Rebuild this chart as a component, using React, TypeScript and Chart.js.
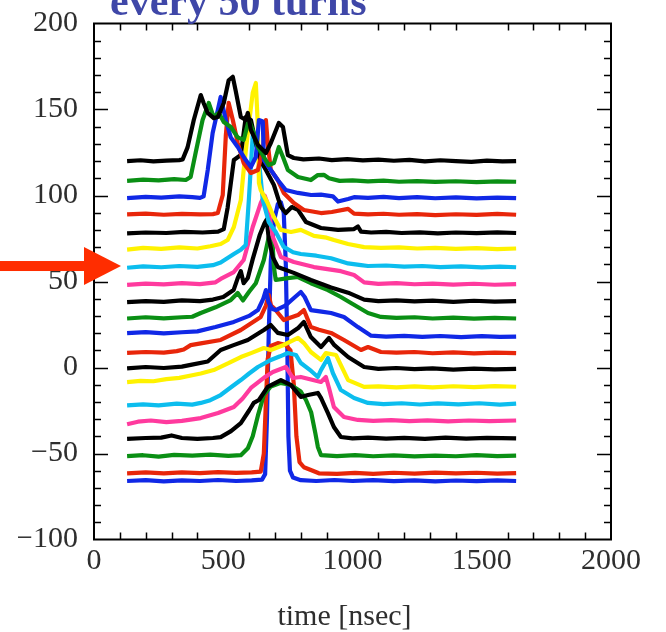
import React, { useEffect, useRef } from "react";
import { Chart, registerables } from "chart.js";
Chart.register(...registerables);

// ---- axes ----
const X_MIN = 0;
const X_MAX = 2000;
const Y_MIN = -100;
const Y_MAX = 200;
const xTickLabels = [0, 500, 1000, 1500, 2000];
const yTickLabels = [-100, -50, 0, 50, 100, 150, 200];
const xMinorTicks = [100, 200, 300, 400, 600, 700, 800, 900, 1100, 1200, 1300, 1400, 1600, 1700, 1800, 1900];
const titleText = "every 50 turns";
const xAxisTitle = "time [nsec]";

// ---- traces (time [nsec], offset signal), listed top to bottom ----
const trace01 = [[128,120],[180,120.5],[230,119.8],[280,120.3],[330,120.6],[343,121],[362,128],[386,143.9],[413,158.4],[424,153.8],[440,148],[463,145],[479,145.6],[502,153.8],[521,167],[537,169],[548,161],[568,145.6],[587,143.9],[595,148],[607,138],[634,129.4],[665,124.7],[684,130.5],[715,142.2],[731,139.8],[750,123.5],[773,121.8],[810,121],[870,121.5],[920,120.6],[980,121.2],[1040,120.4],[1100,120.9],[1160,120.2],[1220,120.7],[1280,119.8],[1340,120.5],[1400,120],[1460,119.6],[1520,120.3],[1580,119.8],[1633,120]];
const trace02 = [[128,108.5],[190,109.2],[250,108.8],[310,109.5],[355,109],[374,110.8],[393,124.7],[420,143.9],[444,153.8],[463,145.6],[483,148],[502,142.7],[529,139.8],[556,133.8],[579,132.3],[599,143.9],[614,138],[634,128.2],[657,122.4],[676,117.7],[696,118.9],[715,128.2],[731,122.4],[750,114.8],[789,110.8],[839,109],[866,111.9],[889,112],[909,110],[950,108.5],[1000,108.8],[1060,108.2],[1120,108.6],[1180,108],[1250,108.4],[1320,107.9],[1400,108.3],[1480,107.8],[1560,108.2],[1633,108]];
const trace03 = [[128,98.5],[200,99.2],[260,98.8],[330,99.5],[380,99],[410,98.6],[424,99.5],[440,114.8],[459,136.3],[479,149.7],[490,157.3],[510,143.9],[529,133.8],[556,128.2],[587,120.6],[607,116.6],[626,122.4],[638,143.9],[653,143],[657,120.6],[684,114.8],[711,109],[742,103.2],[789,101.5],[840,100.3],[878,100.5],[924,99.5],[944,96.5],[983,98],[1006,99],[1060,98.6],[1120,99.2],[1180,98.5],[1250,99],[1320,98.4],[1400,98.9],[1480,98.3],[1560,98.8],[1633,98.5]];
const trace04 = [[128,89],[200,89.5],[270,88.8],[340,89.3],[410,89],[460,89.2],[479,89.8],[498,100.3],[510,135],[521,153.8],[537,143.9],[556,130.5],[579,118.9],[607,113.1],[634,114.8],[653,126.5],[665,143.9],[672,130.5],[684,114.8],[711,109],[734,101.5],[773,95.6],[812,91.6],[878,89.8],[920,90.4],[983,92.2],[1006,89.5],[1060,89],[1120,89.4],[1180,88.8],[1250,89.2],[1320,88.6],[1400,89.1],[1480,88.7],[1560,89.3],[1633,88.8]];
const trace05 = [[128,78],[200,78.5],[280,78.2],[350,78.8],[420,78.5],[480,79],[502,80.5],[517,93],[541,120.6],[568,123.5],[587,145.6],[607,143.9],[626,130.5],[645,120],[665,114.8],[696,106.1],[723,93.3],[742,89.8],[765,93.3],[789,91.6],[820,84.6],[878,81.1],[944,80],[1006,80.5],[1021,82],[1033,79],[1072,78.5],[1130,78.8],[1190,78.2],[1260,78.6],[1330,78],[1400,78.5],[1480,78.1],[1560,78.6],[1633,78.2]];
const trace06 = [[128,68.5],[190,69.5],[260,69],[330,69.8],[400,69.2],[450,70.5],[490,71.8],[517,74.1],[541,81.7],[568,97.4],[579,114.8],[595,136.3],[614,159.6],[626,165.4],[634,140],[638,107.3],[645,103.2],[672,95.6],[696,87.5],[723,80],[762,78.8],[800,80],[851,76.5],[900,75.5],[928,74.1],[983,71.8],[1045,70],[1110,69.5],[1180,69.8],[1250,69.2],[1320,69.6],[1400,69],[1480,69.4],[1560,68.8],[1633,69.2]];
const trace07 = [[128,58],[190,58.8],[260,58.3],[330,59],[400,58.5],[460,59.5],[490,61],[541,66],[568,68.5],[587,71.2],[599,97.4],[614,135],[634,126.5],[653,97.4],[676,84.6],[703,78.8],[734,70.1],[770,67],[800,66],[860,65],[917,63.5],[983,60.5],[1033,59.5],[1060,59],[1130,59.3],[1200,58.6],[1270,59],[1340,58.4],[1420,58.8],[1500,58.2],[1570,58.7],[1633,58.3]];
const trace08 = [[128,48],[200,48.8],[270,48.3],[340,49],[410,48.5],[470,49.5],[490,51.5],[541,55.5],[579,62.5],[614,81.7],[645,95.6],[660,100],[670,96],[692,75.9],[723,64.2],[773,61.3],[851,58.4],[955,56],[1006,53.8],[1045,49.5],[1100,48.6],[1170,49],[1240,48.4],[1310,48.8],[1390,48.2],[1470,48.7],[1550,48.1],[1633,48.5]];
const trace09 = [[128,38],[200,38.6],[270,38.2],[340,39],[410,38.6],[460,39.5],[500,41],[540,45],[556,52],[568,56],[579,49],[595,52],[614,63],[641,77],[660,84],[668,86],[676,75],[692,64],[711,58.4],[773,55],[839,50.9],[917,46.5],[983,43.5],[1045,39.5],[1100,38.6],[1170,39],[1240,38.4],[1310,38.9],[1390,38.2],[1470,38.8],[1550,38.3],[1633,38.6]];
const trace10 = [[128,28.5],[200,29.2],[270,28.6],[340,29.2],[380,29.5],[413,31.7],[470,35],[529,39.2],[556,43.3],[576,39],[600,44],[626,49],[657,62.5],[676,75.9],[690,74],[696,58.4],[703,50.9],[750,52],[789,52.6],[839,49],[905,45],[955,41],[994,37.5],[1060,31.7],[1110,29.4],[1170,28.8],[1240,29.2],[1310,28.5],[1390,29],[1470,28.4],[1550,28.9],[1633,28.5]];
const trace11 = [[128,20],[200,20.6],[270,19.8],[340,20.5],[400,21],[470,23.5],[541,26.5],[600,30],[634,33.4],[655,40],[665,45],[675,38],[690,34],[703,33.4],[740,36],[770,40],[800,43.9],[815,41],[839,33.4],[880,32.5],[917,31.7],[967,29.4],[1021,23.5],[1072,18.5],[1130,18],[1200,18.4],[1270,17.8],[1340,18.3],[1420,17.7],[1500,18.2],[1570,17.8],[1633,18]];
const trace12 = [[128,8.5],[200,9],[270,8.6],[320,9.5],[347,10.5],[374,13],[413,14],[490,16],[568,21.8],[645,29.4],[665,36],[676,42.2],[685,36],[696,34.6],[734,27.6],[789,30.5],[812,33.4],[839,23.5],[870,22],[917,20.1],[967,16],[1033,10.2],[1060,11.9],[1110,9],[1170,8.6],[1240,9],[1310,8.3],[1390,8.8],[1470,8.2],[1550,8.7],[1633,8.4]];
const trace13 = [[128,-0.5],[200,0.3],[270,-0.3],[340,0.5],[374,1.5],[440,3.5],[490,10.2],[540,13],[595,16],[657,21.8],[684,24.7],[711,20.1],[750,18.9],[790,23],[812,26.5],[839,17.7],[878,11.9],[909,17.2],[930,13],[983,6.1],[1045,0.3],[1100,-0.8],[1170,-0.3],[1240,-1],[1310,-0.5],[1390,-1.2],[1470,-0.6],[1550,-1.1],[1633,-0.8]];
const trace14 = [[128,-8.5],[180,-7.8],[230,-8],[280,-6.8],[330,-6],[380,-4.5],[413,-3.5],[463,-1.5],[520,2.5],[568,6.1],[610,8.5],[657,11.3],[684,10.2],[734,13.1],[789,17.2],[812,14.2],[839,9],[878,4.4],[897,8.4],[936,7.3],[983,-7.3],[1045,-11.3],[1100,-11],[1170,-11.6],[1240,-11],[1310,-11.5],[1390,-10.9],[1470,-11.4],[1550,-10.8],[1633,-11.2]];
const trace15 = [[128,-22],[190,-21.4],[250,-22],[320,-21],[380,-21.6],[413,-20.6],[450,-19],[490,-16],[530,-11.5],[568,-7.3],[600,-3.5],[634,0.3],[684,4.4],[720,6.5],[750,8.4],[781,7.3],[800,2.6],[840,-2],[866,-5.5],[878,-1.5],[905,5.5],[924,-3.2],[955,-13.1],[1006,-17.7],[1060,-20.6],[1120,-21.3],[1190,-20.8],[1260,-21.5],[1330,-20.9],[1410,-21.4],[1490,-20.8],[1570,-21.6],[1633,-21]];
const trace16 = [[128,-33],[170,-31.5],[220,-30.8],[280,-31.8],[340,-31],[413,-29.4],[480,-26.5],[541,-23],[575,-18],[607,-11.9],[657,-6],[692,-2.6],[742,0.3],[769,-6.1],[800,-5.5],[847,-7.3],[878,-8.4],[897,-5.5],[909,-11.9],[928,-23],[967,-28.8],[1021,-30.5],[1080,-31],[1150,-30.6],[1220,-31.2],[1290,-30.7],[1370,-31.3],[1450,-30.8],[1530,-31.2],[1633,-30.8]];
const trace17 = [[128,-41.5],[200,-41],[260,-40.8],[300,-39.5],[340,-41],[400,-41.5],[460,-41],[490,-40.5],[530,-37],[568,-32.3],[600,-25],[618,-20.6],[638,-18.9],[672,-11.3],[723,-7.3],[762,-10.2],[800,-17.1],[828,-16],[866,-14.8],[878,-17.7],[905,-26.5],[928,-34.6],[955,-40.4],[1000,-41.2],[1060,-40.8],[1130,-41.4],[1200,-40.9],[1280,-41.5],[1360,-40.8],[1440,-41.3],[1520,-40.9],[1633,-41.2]];
const trace18 = [[128,-51.5],[190,-51],[250,-51.8],[310,-50.8],[380,-51.2],[450,-50.6],[520,-51.4],[568,-51],[595,-47],[614,-40],[634,-28],[657,-16],[684,-11],[720,-9],[760,-10],[800,-14],[820,-18.9],[840,-26],[856,-38],[866,-46.2],[878,-50.9],[940,-51.5],[1010,-51],[1080,-51.6],[1160,-51.1],[1240,-51.7],[1320,-51.2],[1400,-51.6],[1480,-51],[1560,-51.5],[1633,-51.2]];
const trace19 = [[128,-61.5],[200,-61],[270,-61.6],[340,-61],[410,-61.4],[480,-60.8],[550,-61.3],[610,-61],[645,-60.5],[657,-50],[665,-20],[672,5],[684,12.5],[711,14.2],[742,13],[760,10],[773,-10],[783,-40],[795,-55],[812,-58],[839,-59.6],[870,-61.5],[940,-61.9],[1010,-61.3],[1080,-61.8],[1160,-61.2],[1240,-61.7],[1320,-61.1],[1400,-61.6],[1480,-61.2],[1560,-61.7],[1633,-61.4]];
const trace20 = [[128,-66],[200,-65.5],[270,-66.2],[340,-65.6],[410,-66],[480,-65.4],[550,-66],[610,-65.6],[650,-65.2],[662,-62],[669,-30],[676,20],[684,62],[696,85],[711,95],[723,96],[734,90],[742,60],[748,10],[752,-40],[758,-60],[770,-64],[800,-65.5],[860,-66],[930,-65.4],[1000,-66],[1080,-65.5],[1160,-66.1],[1240,-65.6],[1320,-66.2],[1400,-65.7],[1480,-66.1],[1560,-65.6],[1633,-66]];

const traces = [trace01, trace02, trace03, trace04, trace05, trace06, trace07, trace08, trace09, trace10,
  trace11, trace12, trace13, trace14, trace15, trace16, trace17, trace18, trace19, trace20];

const BLACK = "#000000";
const GREEN = "#0a8f14";
const BLUE = "#1028e6";
const RED = "#e8260a";
const YELLOW = "#fff200";
const CYAN = "#0cbdee";
const PINK = "#ff3a9e";
const traceColors = [BLACK, GREEN, BLUE, RED, BLACK, YELLOW, CYAN, PINK, BLACK, GREEN,
  BLUE, RED, BLACK, YELLOW, CYAN, PINK, BLACK, GREEN, RED, BLUE];

const TICK_FONT = "Liberation Serif";
const TEXT_COLOR = "#2e2e2e";

const fmt = (v: number) => (v < 0 ? "\u2212" + Math.abs(v) : String(v));

const decorPlugin = {
  id: "decor",
  afterDraw(chart: any) {
    const { ctx, chartArea: a, scales } = chart;
    const xs = scales.x;
    const ys = scales.y;
    ctx.save();
    // frame
    ctx.strokeStyle = "#000";
    ctx.lineWidth = 2;
    ctx.strokeRect(a.left, a.top, a.right - a.left, a.bottom - a.top);
    // inward ticks x
    ctx.lineWidth = 1.5;
    ctx.beginPath();
    for (const t of xMinorTicks) {
      const px = Math.round(xs.getPixelForValue(t)) + 0.5;
      ctx.moveTo(px, a.bottom);
      ctx.lineTo(px, a.bottom - 7);
      ctx.moveTo(px, a.top);
      ctx.lineTo(px, a.top + 7);
    }
    // inward ticks y
    for (let v = Y_MIN + 10; v < Y_MAX; v += 10) {
      const py = Math.round(ys.getPixelForValue(v)) + 0.5;
      const len = v % 50 === 0 ? 14 : 7;
      ctx.moveTo(a.left, py);
      ctx.lineTo(a.left + len, py);
      ctx.moveTo(a.right, py);
      ctx.lineTo(a.right - len, py);
    }
    ctx.stroke();
    ctx.restore();

    // title (cut off at top as in the original slide)
    ctx.save();
    ctx.fillStyle = "#3f47a8";
    ctx.font = "bold 42px 'Liberation Serif'";
    ctx.textAlign = "left";
    ctx.textBaseline = "alphabetic";
    ctx.fillText(titleText, 110, 15);
    ctx.restore();

    // x axis title
    ctx.save();
    ctx.fillStyle = TEXT_COLOR;
    ctx.font = "30px 'Liberation Serif'";
    ctx.textAlign = "center";
    ctx.textBaseline = "middle";
    ctx.fillText(xAxisTitle, (a.left + a.right) / 2 - 8, 617);
    ctx.restore();

    // red arrow pointing at the cyan trace
    const ay = ys.getPixelForValue(trace07[0][1] + 1);
    ctx.save();
    ctx.fillStyle = "#ff2d00";
    ctx.fillRect(0, ay - 5, 86, 10);
    ctx.beginPath();
    ctx.moveTo(84, ay - 19);
    ctx.lineTo(121, ay);
    ctx.lineTo(84, ay + 19);
    ctx.closePath();
    ctx.fill();
    ctx.restore();
  },
};

export default function App() {
  const ref = useRef<HTMLCanvasElement>(null);
  useEffect(() => {
    if (!ref.current) return;
    const datasets = traces
      .map((pts, i) => ({
        label: "trace " + (i + 1),
        data: pts.map(([x, y]) => ({ x, y })),
        borderColor: traceColors[i],
        backgroundColor: traceColors[i],
        borderWidth: 4.2,
        pointRadius: 0,
        tension: 0,
        fill: false,
        borderJoinStyle: "round" as const,
      }));
    const chart = new Chart(ref.current, {
      type: "line",
      data: { datasets },
      options: {
        animation: false,
        responsive: false,
        devicePixelRatio: 1,
        layout: { padding: { left: 18, right: 55, top: 23.5, bottom: 0 } },
        plugins: { legend: { display: false }, tooltip: { enabled: false }, title: { display: false } },
        scales: {
          x: {
            type: "linear",
            min: X_MIN,
            max: X_MAX,
            afterFit: (s: any) => { s.height = 92.5; s.paddingLeft = 0; s.paddingRight = 0; },
            afterBuildTicks: (s: any) => { s.ticks = xTickLabels.map((v) => ({ value: v })); },
            ticks: {
              font: { family: TICK_FONT, size: 30 },
              color: TEXT_COLOR,
              padding: 4,
              maxRotation: 0,
              autoSkip: false,
              callback: (v: any) => fmt(Number(v)),
            },
            grid: { display: false, drawTicks: false },
            border: { display: false },
          },
          y: {
            type: "linear",
            min: Y_MIN,
            max: Y_MAX,
            afterFit: (s: any) => { s.width = 76; s.paddingTop = 0; s.paddingBottom = 0; },
            afterBuildTicks: (s: any) => { s.ticks = yTickLabels.map((v) => ({ value: v })); },
            ticks: {
              font: { family: TICK_FONT, size: 30 },
              color: TEXT_COLOR,
              padding: 16,
              autoSkip: false,
              callback: (v: any) => fmt(Number(v)),
            },
            grid: { display: false, drawTicks: false },
            border: { display: false },
          },
        },
      },
      plugins: [decorPlugin],
    });
    return () => chart.destroy();
  }, []);
  return (
    <div style={{ position: "fixed", left: 0, top: 0, width: 666, height: 632, background: "#fff" }}>
      <canvas ref={ref} width={666} height={632} style={{ display: "block" }} />
    </div>
  );
}
